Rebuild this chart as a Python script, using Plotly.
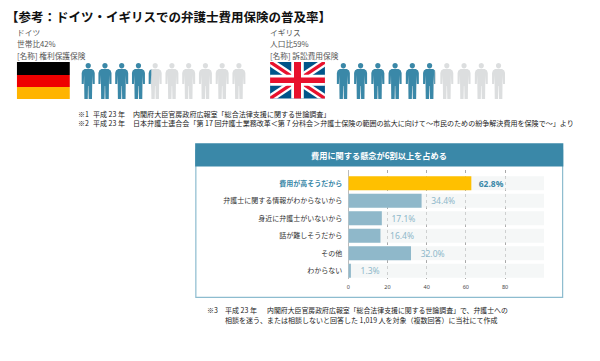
import math
import plotly.graph_objects as go

title_text = "【参考：ドイツ・イギリスでの弁護士費用保険の普及率】"
de_lines = ["ドイツ", "世帯比42%", "[名称] 権利保護保険"]
uk_lines = ["イギリス", "人口比59%", "[名称] 訴訟費用保険"]
de_share = 42
uk_share = 59
note_marks = ["※1", "※2"]
note_year = "平成 23 年"
note_sources = [
    "内閣府大臣官房政府広報室「総合法律支援に関する世論調査」",
    "日本弁護士連合会「第 17 回弁護士業務改革＜第 7 分科会＞弁護士保険の範囲の拡大に向けて～市民のための紛争解決費用を保険で～」より",
]
bottom_mark = "※3"
bottom_lines = [
    "内閣府大臣官房政府広報室「総合法律支援に関する世論調査」で、弁護士への",
    "相談を迷う、または相談しないと回答した 1,019 人を対象（複数回答）に当社にて作成",
]
panel_title = "費用に関する懸念が6割以上を占める"
categories = ["費用が高そうだから", "弁護士に関する情報がわからないから", "身近に弁護士がいないから",
              "話が難しそうだから", "その他", "わからない"]
# the drawn length of the second bar in the picture is longer than its printed label
bar_lengths = [62.8, 37.4, 17.1, 16.4, 32.0, 1.3]
printed_values = [62.8, 34.4, 17.1, 16.4, 32.0, 1.3]
full_scale = [100] * 6
x_ticks = [0, 20, 40, 60, 80]

BLUE = "#3a88a8"
PALE = "#8fb8ca"
GREY = "#dcdedf"
FONT = "Noto Sans CJK JP"
W, H = 600, 361
DX = -2


def px(x):
    return (x + DX) / W


def py(y):
    return 1 - y / H


def poly_path(pts):
    return "M" + " L".join(f"{px(x):.5f},{py(y):.5f}" for x, y in pts) + " Z"


def rect(x0, y0, x1, y1, color, line=None, width=0, layer="below"):
    return dict(type="rect", xref="paper", yref="paper", x0=px(x0), x1=px(x1), y0=py(y0), y1=py(y1),
                fillcolor=color, line=dict(color=line or color, width=width), layer=layer)


def polygon(pts, color, layer="below"):
    return dict(type="path", xref="paper", yref="paper", path=poly_path(pts), fillcolor=color,
                line=dict(width=0), layer=layer)


# pictogram template in a 13 x 36 box
HEAD = [(6.5 + 2.6 * math.cos(a * math.pi / 10), 2.7 + 2.7 * math.sin(a * math.pi / 10)) for a in range(20)]
BODY = [(3, 6), (10, 6), (12.2, 7.5), (13, 10), (13, 21), (11, 21), (10.6, 12), (10.3, 36), (7, 36), (6.7, 23),
        (6.3, 23), (6, 36), (2.7, 36), (2.4, 12), (2, 21), (0, 21), (0, 10), (0.8, 7.5)]


def clip_left(pts, limit):
    out = []
    for i, p in enumerate(pts):
        q = pts[(i + 1) % len(pts)]
        if p[0] <= limit:
            out.append(p)
        if (p[0] <= limit) != (q[0] <= limit):
            t = (limit - p[0]) / (q[0] - p[0])
            out.append((limit, p[1] + t * (q[1] - p[1])))
    return out


def people(x_start, step, y_top, share):
    res = []
    for i in range(10):
        x0 = x_start + i * step
        for part in (HEAD, BODY):
            pts = [(x0 + a, y_top + b) for a, b in part]
            res.append(polygon(pts, GREY))
            fill = max(0.0, min(1.0, share / 10 - i))
            if fill > 0:
                cut = clip_left(part, 13 * fill)
                if len(cut) >= 3:
                    res.append(polygon([(x0 + a, y_top + b) for a, b in cut], BLUE))
    return res


shapes = []
# Germany flag
shapes += [rect(17, 62, 70, 75, "#000000"), rect(17, 75, 70, 87, "#ee0000"), rect(17, 87, 70, 99, "#ffb400")]
# UK flag
fx0, fx1, fy0, fy1 = 271, 326, 62, 98.5
NAVY = "#00558a"
RED = "#e8112d"
shapes.append(rect(fx0, fy0, fx1, fy1, NAVY))


def saltire(d, color):
    e = d * (fy1 - fy0) / (fx1 - fx0)
    return [
        polygon([(fx0, fy0), (fx0 + d, fy0), (fx1, fy1 - e), (fx1, fy1), (fx1 - d, fy1), (fx0, fy0 + e)], color),
        polygon([(fx0, fy1), (fx0 + d, fy1), (fx1, fy0 + e), (fx1, fy0), (fx1 - d, fy0), (fx0, fy1 - e)], color),
    ]


shapes += saltire(7, "#ffffff") + saltire(3, RED)
fmx, fmy = (fx0 + fx1) / 2, (fy0 + fy1) / 2
shapes += [rect(fmx - 6.3, fy0, fmx + 6.3, fy1, "#ffffff"), rect(fx0, fmy - 5.5, fx1, fmy + 5.5, "#ffffff"),
           rect(fmx - 3.5, fy0, fmx + 3.5, fy1, RED), rect(fx0, fmy - 2.7, fx1, fmy + 2.7, RED)]
shapes += people(82, 16.8, 63, de_share)
shapes += people(338, 17.3, 63, uk_share)
# panel
shapes.append(rect(196.5, 150, 564.5, 297.3, "#ffffff", line="#8dbccf", width=1.2))
shapes.append(rect(195.8, 143.3, 565.2, 166.5, BLUE))

ann = []


def text(x, y, s, size, color="#222222", bold=False, anchor="left"):
    ann.append(dict(x=px(x), y=py(y), xref="paper", yref="paper", xanchor=anchor, yanchor="middle", showarrow=False,
                    text=f"<b>{s}</b>" if bold else s, align=anchor, borderpad=0,
                    font=dict(family=FONT, size=size, color=color)))


text(5, 16, title_text, 12.5, "#111111", True)
for xx, lines in ((16, de_lines), (270, uk_lines)):
    for yy, s in zip((32, 44, 56), lines):
        text(xx, yy, s, 7.7, "#555555")
for yy, mark, src in zip((114, 123), note_marks, note_sources):
    text(77, yy, mark, 7, "#222222")
    text(92, yy, note_year, 7, "#222222")
    text(132, yy, src, 7.05, "#222222")
text(206.7, 310, bottom_mark, 7, "#222222")
text(225, 310, note_year, 7, "#222222")
text(267, 310, bottom_lines[0], 6.9, "#222222")
text(225, 319.5, bottom_lines[1], 7, "#222222")
text(380.5, 155, panel_title, 8.2, "#ffffff", True, "center")

ticktext = [f'<b><span style="color:{BLUE}">{categories[0]}</span></b>'] + categories[1:]
colors = ["#ffc000"] + [PALE] * 5
label_colors = [BLUE] + [PALE] * 5
labels = [f"\u00a0\u00a0<b>{printed_values[0]:.1f}%</b>"] + [f"\u00a0\u00a0\u00a0{v:.1f}%" for v in printed_values[1:]]

fig = go.Figure()
fig.add_bar(y=categories, x=full_scale, orientation="h", marker=dict(color="rgba(236,241,241,0.55)", line_width=0),
            hoverinfo="skip")
fig.add_bar(y=categories, x=bar_lengths, orientation="h", marker=dict(color=colors, line_width=0),
            text=labels, textposition="outside", textfont=dict(family="Noto Sans", size=8.5, color=label_colors),
            cliponaxis=False, constraintext="none")
fig.update_layout(
    width=W, height=H, autosize=False, margin=dict(l=0, r=0, t=0, b=0), paper_bgcolor="#ffffff",
    plot_bgcolor="rgba(0,0,0,0)", barmode="overlay", bargap=0.2, showlegend=False, shapes=shapes, annotations=ann,
    xaxis=dict(domain=[px(349.5), px(546)], range=[0, 100], tickvals=x_ticks, ticks="", showgrid=True,
               gridcolor="#a9a9a9", griddash="dot", gridwidth=1, zeroline=True, zerolinecolor="#bbbbbb",
               zerolinewidth=1, tickfont=dict(family="Noto Sans", size=5.5, color="#444444"), showline=False,
               ticklabelstandoff=3),
    yaxis=dict(domain=[py(279.4), py(170.2)], range=[5.5, -0.75], tickmode="array", tickvals=categories,
               ticktext=ticktext, ticks="", ticklen=0, tickfont=dict(family=FONT, size=7, color="#333333"),
               showgrid=False, zeroline=False, showline=False, automargin=False, type="category",
               ticklabelstandoff=5),
)
fig.write_html("out.html", config={"displayModeBar": False},
               post_script="document.body.style.margin='0';window.dispatchEvent(new Event('resize'));")
